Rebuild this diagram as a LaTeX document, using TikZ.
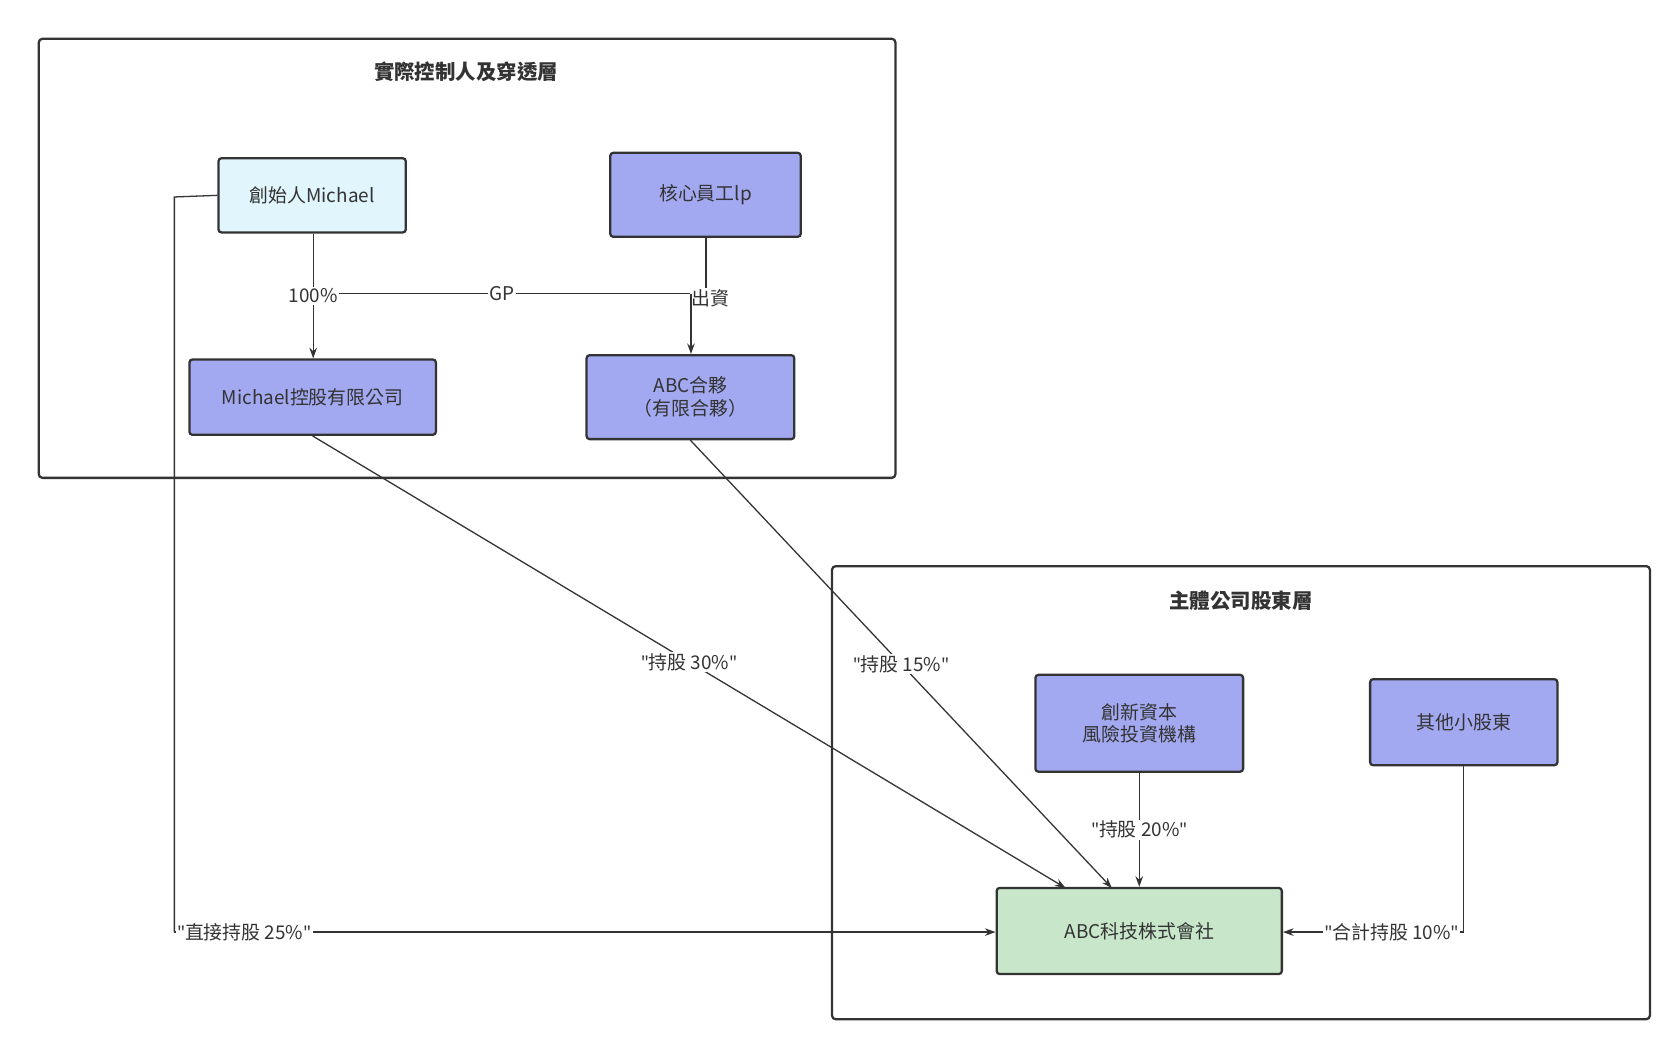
\documentclass[tikz,border=0pt]{standalone}
\usepackage{fontspec}
\setmainfont{Noto Sans CJK TC}
\newfontfamily\qf{Noto Sans}
\usetikzlibrary{arrows.meta}
\definecolor{nb}{HTML}{A3A9F1}
\definecolor{nc}{HTML}{E0F5FC}
\definecolor{ng}{HTML}{C8E6C9}
\definecolor{ln}{HTML}{333333}
\newcommand{\qq}{{\qf\char34}}
\begin{document}
\begin{tikzpicture}[x=0.05cm,y=-0.05cm,
 txt/.style={font=\fontsize{25}{30}\selectfont, text=ln},
 box/.style={draw=ln, line width=3pt, rounded corners=4pt, txt, align=center, inner sep=0pt},
 grp/.style={draw=ln, line width=3pt, rounded corners=5pt},
 ttl/.style={font=\fontsize{27}{30}\selectfont\bfseries, text=ln},
 e/.style={draw=ln, line width=1.7pt},
 a/.style={e, -{Stealth[length=14pt,width=10pt]}},
 lb/.style={txt, fill=white, inner sep=2pt}]
\useasboundingbox (0,0) rectangle (1560,978);
\draw[grp] (36,36) rectangle (832,444);
\draw[grp] (773,526) rectangle (1533,947);
\node[ttl] (t1) at (433,67) {實際控制人及穿透層};
\node[ttl] (t2) at (1153,558) {主體公司股東層};
\node[box, fill=nc, minimum width=174*0.05cm, minimum height=69*0.05cm] (f) at (290,181.5) {創始人Michael};
\node[box, fill=nb, minimum width=177*0.05cm, minimum height=78*0.05cm] (c) at (655.5,181) {核心員工lp};
\node[box, fill=nb, minimum width=229*0.05cm, minimum height=70*0.05cm] (m) at (290.5,369) {Michael控股有限公司};
\node[box, fill=nb, minimum width=193*0.05cm, minimum height=78*0.05cm] (abc) at (641.5,369) {ABC合夥\\（有限合夥）};
\node[box, fill=nb, minimum width=193*0.05cm, minimum height=90*0.05cm] (i) at (1058.5,672) {創新資本\\風險投資機構};
\node[box, fill=nb, minimum width=174*0.05cm, minimum height=80*0.05cm] (o) at (1360,671) {其他小股東};
\node[box, fill=ng, minimum width=265*0.05cm, minimum height=80*0.05cm] (mc) at (1058.5,865) {ABC科技株式會社};
\coordinate (g1) at (291,273);
\coordinate (g2) at (642,273);
\coordinate (c1) at (656,273);
\draw[e] (g1) -- node[lb, pos=0.5] {GP} (g2);
\draw[a] (f.south -| g1) -- node[lb] {100\%} (m.north -| g1);
\draw[e] (c.south -| c1) -- (c1) -- (g2);
\node[lb] (cz) at (660,277) {出資};
\draw[a] (g2) -- (abc.north -| g2);
\coordinate (t30) at (990,825);
\coordinate (t15) at (1033,825);
\draw[a] (m.south) -- node[lb, pos=0.5] {\qq 持股 30\%\qq} (t30);
\draw[a] (abc.south) -- node[lb, pos=0.5] {\qq 持股 15\%\qq} (t15);
\draw[a] (i.south) -- node[lb] {\qq 持股 20\%\qq} (mc.north);
\coordinate (o1) at (1360,866);
\draw[e] (o.south) -- (o1);
\draw[a] (o1) -- node[lb, pos=0.4] {\qq 合計持股 10\%\qq} (mc.east |- o1);
\coordinate (f1) at (162,183);
\coordinate (f2) at (162,866);
\draw[e] (f.west) -- (f1) -- (f2);
\draw[a] (f2) -- node[lb, pos=0.085] {\qq 直接持股 25\%\qq} (mc.west |- f2);
\end{tikzpicture}
\end{document}
